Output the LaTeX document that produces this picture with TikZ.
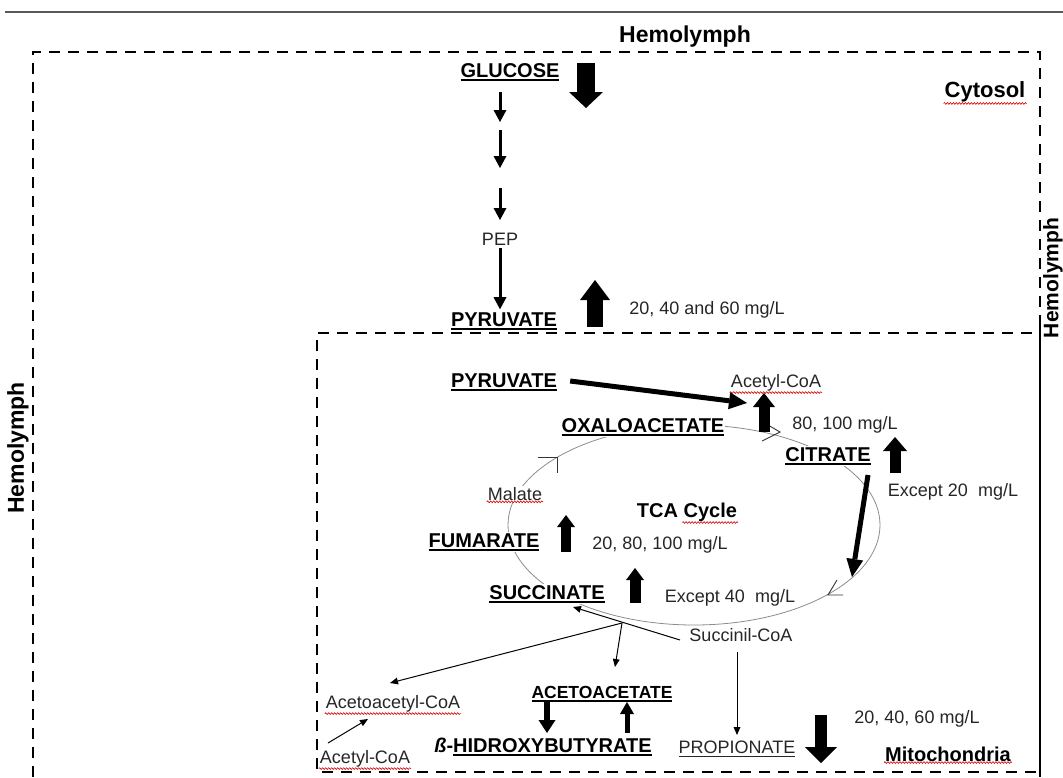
\documentclass[tikz,border=0pt]{standalone}
\usepackage{fontspec}
\setmainfont{Liberation Sans}
\usetikzlibrary{arrows.meta,decorations.pathmorphing}
\newcommand\ulin[1]{\leavevmode\setbox0\hbox{#1}\rlap{\rule[-3.4pt]{\wd0}{1.6pt}}\box0}
\newcommand\ulthin[1]{\leavevmode\setbox0\hbox{#1}\rlap{\rule[-3pt]{\wd0}{0.9pt}}\box0}
\tikzset{
  dsh/.style={line width=2.5pt, dash pattern=on 11pt off 8pt},
  lbl/.style={font=\fontsize{20}{22}\selectfont\bfseries, inner sep=1pt, fill=white},
  hem/.style={font=\fontsize{23}{25}\selectfont\bfseries, inner sep=1pt},
  txt/.style={font=\fontsize{18}{20}\selectfont, inner sep=1pt, text=black!85},
  blk/.style n args={3}{line width=#1, -{Triangle[length=#2, width=#3, line width=0pt]}},
  sm/.style={line width=3pt, -{Triangle[length=12pt, width=13pt, line width=0pt]}},
  thick arr/.style={line width=5pt, -{Triangle[length=18pt, width=17pt, line width=0pt]}},
  thin arr/.style={line width=1pt, -{Triangle[length=8pt, width=7pt, line width=0pt]}},
  chev/.style={line width=0.9pt, black!80},
  wavy/.style={red!85!black, line width=0.6pt, decorate, decoration={snake, amplitude=0.9pt, segment length=3pt}}
}
\begin{document}
\begin{tikzpicture}[x=1pt,y=-1pt]
\useasboundingbox (0,0) rectangle (1063,777);
% top rule
\draw[line width=2.5pt, black!65] (5,12) -- (1063,12);
% cytosol box
\draw[dsh] (33,777) -- (33,52) -- (1040,52) -- (1040,322);
\draw[line width=2pt] (1040,322) -- (1040,777);
% mitochondria box
\draw[dsh] (1032,333) -- (317,333) -- (317,772) -- (1040,772);
% TCA cycle
\draw[black!45, line width=0.8pt] (694,525) ellipse [x radius=186pt, y radius=100pt];
\draw[chev] (768,425) -- (780,432) -- (762,441);
\draw[chev] (843,595) -- (828,595) -- (837,580);
\draw[chev] (538,457) -- (557,457) -- (557,473);

% labels
\node[hem] (hemtop) at (685,37) {Hemolymph};
\node[hem, rotate=90] (hemleft) at (18,448) {Hemolymph};
\node[hem, rotate=90, font=\fontsize{21}{23}\selectfont\bfseries] (hemright) at (1053,278) {Hemolymph};
\node[font=\fontsize{22}{24}\selectfont\bfseries, inner sep=1pt] (cyto) at (985,92) {Cytosol};
\node[lbl] (glu) at (510,72) {\ulin{GLUCOSE}};
\node[txt] (pep) at (500,239) {PEP};
\node[lbl] (pyr1) at (504,321) {\ulin{PYRUVATE}};
\node[txt] (c204060a) at (707,310) {20, 40 and 60 mg/L};
\node[lbl] (pyr2) at (504,382) {\ulin{PYRUVATE}};
\node[txt] (acoa) at (776,383) {Acetyl-CoA};
\node[txt] (c80) at (845,425) {80, 100 mg/L};
\node[lbl] (oaa) at (643,427) {\ulin{OXALOACETATE}};
\node[lbl] (cit) at (828,456) {\ulin{CITRATE}};
\node[txt] (ex20) at (953,492) {Except 20\ \ mg/L};
\node[txt, fill=white] (mal) at (515,494) {Malate};
\node[lbl, fill=none] (tca) at (687,512) {TCA Cycle};
\node[lbl] (fum) at (484,542) {\ulin{FUMARATE}};
\node[txt] (c2080) at (660,545) {20, 80, 100 mg/L};
\node[lbl] (suc) at (547,594) {\ulin{SUCCINATE}};
\node[txt] (ex40) at (730,598) {Except 40\ \ mg/L};
\node[txt] (sucoa) at (741,635) {Succinil-CoA};
\node[txt] (aacoa) at (393,704) {Acetoacetyl-CoA};
\node[txt] (acoa2) at (365,759) {Acetyl-CoA};
\node[lbl, font=\fontsize{17.5}{20}\selectfont\bfseries] (aca) at (602,694) {\ulin{ACETOACETATE}};
\node[lbl] (hb) at (543,747) {\textit{ß}-\ulin{HIDROXYBUTYRATE}};
\node[txt] (prop) at (737,749) {\ulthin{PROPIONATE}};
\node[txt] (c204060b) at (917,719) {20, 40, 60 mg/L};
\node[lbl, fill=none] (mito) at (948,754) {Mitochondria};

% wavy spell-check underlines
\draw[wavy] (cyto.south west) -- (cyto.south east);
\draw[wavy] (acoa.south west) -- (acoa.south east);
\draw[wavy] (mal.south west) -- (mal.south east);
\draw[wavy] ([xshift=-56pt]tca.south east) -- (tca.south east);
\draw[wavy] (aacoa.south west) -- (aacoa.south east);
\draw[wavy] (acoa2.south west) -- (acoa2.south east);
\draw[wavy] (mito.south west) -- (mito.south east);

% glycolysis chain
\coordinate (s1) at (500,92);  \coordinate (e1) at (500,122);
\coordinate (s2) at (500,130); \coordinate (e2) at (500,168);
\coordinate (s3) at (500,188); \coordinate (e3) at (500,220);
\draw[sm] (s1) -- (e1);
\draw[sm] (s2) -- (e2);
\draw[sm] (s3) -- (e3);
\draw[sm, shorten <=2pt, shorten >=2pt] (pep.south) -- (pep.south |- pyr1.north);

% block arrows (level indicators)
\coordinate (g1) at (586,63);  \coordinate (g2) at (586,108);
\draw[blk={18pt}{16pt}{34pt}] (g1) -- (g2);
\coordinate (p1) at (595,327); \coordinate (p2) at (595,280);
\draw[blk={16pt}{20pt}{30pt}] (p1) -- (p2);
\coordinate (a1) at (764,432); \coordinate (a2) at (764,393);
\draw[blk={11pt}{14pt}{22pt}] (a1) -- (a2);
\coordinate (c1) at (895,473); \coordinate (c2) at (895,437);
\draw[blk={11pt}{14pt}{24pt}] (c1) -- (c2);
\coordinate (f1) at (566,552); \coordinate (f2) at (566,515);
\draw[blk={10pt}{12pt}{18pt}] (f1) -- (f2);
\coordinate (u1) at (635,603); \coordinate (u2) at (635,568);
\draw[blk={11pt}{12pt}{18pt}] (u1) -- (u2);
\coordinate (r1) at (821,715); \coordinate (r2) at (821,763);
\draw[blk={12pt}{16pt}{32pt}] (r1) -- (r2);
\coordinate (k1) at (547,702); \coordinate (k2) at (547,733);
\draw[blk={6pt}{13pt}{17pt}] (k1) -- (k2);
\coordinate (h1) at (627,733); \coordinate (h2) at (627,702);
\draw[blk={5pt}{12pt}{14pt}] (h1) -- (h2);

% pathway arrows
\coordinate (pyrtip) at (747,403);
\draw[thick arr] ([xshift=12pt,yshift=1pt]pyr2.east) -- (pyrtip);
\coordinate (cs) at (868,475); \coordinate (ce) at (852,577);
\draw[thick arr] (cs) -- (ce);
\coordinate (sucS) at (680,640); \coordinate (sucE) at (573,607);
\draw[thin arr] (sucS) -- (sucE);
\coordinate (br) at (622,623);
\coordinate (aacoaTip) at (390,683);
\coordinate (acaTip) at (615,667);
\draw[thin arr] (br) -- (aacoaTip);
\draw[thin arr] (br) -- (acaTip);
\coordinate (acS) at (328,743); \coordinate (acE) at (368,719);
\draw[thin arr] (acS) -- (acE);
\draw[thin arr] (737,652) coordinate (prS) -- (737,735) coordinate (prE);
\end{tikzpicture}
\end{document}
